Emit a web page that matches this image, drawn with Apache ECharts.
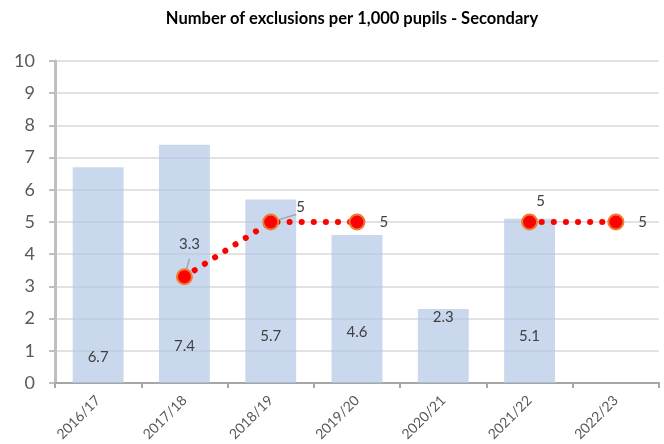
<!DOCTYPE html>
<html>
<head>
<meta charset="utf-8">
<script src="https://cdn.jsdelivr.net/npm/echarts@6/dist/echarts.min.js"></script>
<style>
  html, body { margin: 0; padding: 0; background: #fff; }
  #chart { width: 664px; height: 444px; }
</style>
</head>
<body>
<div id="chart"></div>
<script>
// data
const years = ["2016/17", "2017/18", "2018/19", "2019/20", "2020/21", "2021/22", "2022/23"];
const exclusionRate = [6.7, 7.4, 5.7, 4.6, 2.3, 5.1, null];
const targetLine = [null, 3.3, 5, 5, null, 5, 5];
const yTicks = [0, 1, 2, 3, 4, 5, 6, 7, 8, 9, 10];

// bar labels sit at hand-placed heights above the base (px)
const barLabelRaise = [26, 37, 47, 51, 66, 47, 0];

// label placement for the red line points
const lineLabelStyle = [
  null,
  { position: "top", offset: [5, -12], line: true },
  { position: "right", offset: [0, -15], distance: 17, line: true },
  { position: "right", distance: 14 },
  null,
  { position: "top", offset: [11, 0] },
  { position: "right", distance: 14 },
];

const chart = echarts.init(document.getElementById("chart"));

const barData = exclusionRate.map((v, i) => ({
  value: v,
  label: { distance: Math.max(0, barLabelRaise[i] - 8) },
}));

const lineData = targetLine.map((v, i) => {
  const s = lineLabelStyle[i];
  if (v == null || !s) return { value: v };
  return {
    value: v,
    label: { show: true, position: s.position, offset: s.offset || [0, 0], distance: s.distance ?? 5 },
    labelLine: { show: !!s.line },
  };
});

chart.setOption({
  animation: false,
  title: {
    text: "Number of exclusions per 1,000 pupils - Secondary",
    left: 352,
    top: 10,
    textAlign: "center",
    padding: 0,
    textStyle: { fontFamily: "Lato", fontSize: 16.5, fontWeight: "bold", color: "#000" },
  },
  grid: { left: 55, right: 5, top: 61, bottom: 60, containLabel: false },
  xAxis: {
    type: "category",
    data: years,
    boundaryGap: true,
    axisLine: { lineStyle: { color: "#a6a6a6", width: 2 } },
    axisTick: { show: true, length: 5, lineStyle: { color: "#a6a6a6", width: 2 } },
    axisLabel: { rotate: 45, margin: 15, fontFamily: "Lato", fontSize: 14, color: "#595959" },
  },
  yAxis: {
    type: "value",
    min: yTicks[0],
    max: yTicks[yTicks.length - 1],
    interval: 1,
    axisLine: { show: true, lineStyle: { color: "#bfbfbf", width: 3 } },
    axisTick: { show: true, length: 6, lineStyle: { color: "#bfbfbf", width: 2 } },
    axisLabel: { margin: 20, fontFamily: "Lato", fontSize: 18, color: "#595959" },
    splitLine: { lineStyle: { color: "#d9d9d9", width: 1.5 } },
  },
  series: [
    {
      type: "bar",
      data: barData,
      barWidth: "59%",
      itemStyle: { color: "rgba(180,199,231,0.7)" },
      label: {
        show: true,
        position: "insideBottom",
        fontFamily: "Lato",
        fontSize: 15,
        color: "#404040",
      },
      z: 2,
    },
    {
      type: "line",
      data: lineData,
      connectNulls: false,
      symbol: "circle",
      symbolSize: 15,
      itemStyle: { color: "#ff0000", borderColor: "#ed7d31", borderWidth: 2 },
      lineStyle: { color: "#ff0000", width: 6, type: [0.1, 12], cap: "round" },
      label: { show: false, fontFamily: "Lato", fontSize: 15, color: "#404040" },
      labelLine: { show: false, lineStyle: { color: "#a6a6a6", width: 1.5 } },
      z: 3,
    },
  ],
});
</script>
</body>
</html>
